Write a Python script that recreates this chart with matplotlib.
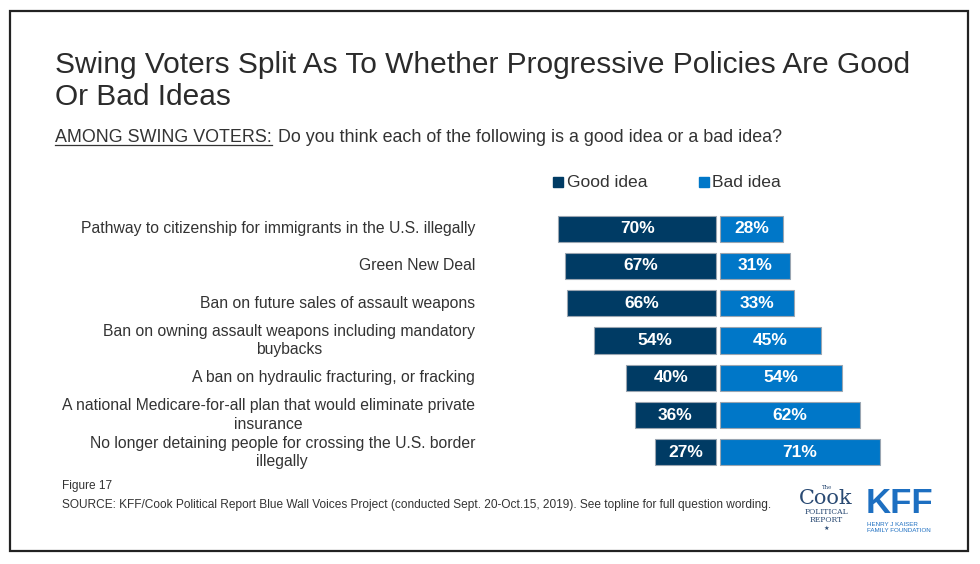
import matplotlib.pyplot as plt
from matplotlib.patches import Rectangle

plt.rcParams['font.family'] = ['Liberation Sans', 'DejaVu Sans']

# Data
policies = [
    "Pathway to citizenship for immigrants in the U.S. illegally",
    "Green New Deal",
    "Ban on future sales of assault weapons",
    "Ban on owning assault weapons including mandatory\nbuybacks",
    "A ban on hydraulic fracturing, or fracking",
    "A national Medicare-for-all plan that would eliminate private\ninsurance",
    "No longer detaining people for crossing the U.S. border\nillegally",
]
good = [70, 67, 66, 54, 40, 36, 27]
bad = [28, 31, 33, 45, 54, 62, 71]

good_color = "#003b64"
bad_color = "#0077c8"
text_color = "#333333"

W, H = 980, 564
fig = plt.figure(figsize=(W / 100, H / 100), dpi=100)

def px(x, y):
    return x / W, 1 - y / H

# frame
fig.patches.append(Rectangle((10 / W, 1 - 551 / H), 958 / W, 540 / H,
                             transform=fig.transFigure, fill=False,
                             edgecolor="#222222", linewidth=1.6))

# title + subtitle
fig.text(*px(55, 105), "Swing Voters Split As To Whether Progressive Policies Are Good\nOr Bad Ideas",
         fontsize=21.5, color="#2b2b2b", va="baseline", linespacing=1.2)
lead = fig.text(*px(55, 142), "AMONG SWING VOTERS:", fontsize=12.9, color=text_color, va="baseline")
renderer = fig.canvas.get_renderer()
bb = lead.get_window_extent(renderer)
fig.text(bb.x1 / W + 6 / W, 1 - 142 / H,
         "Do you think each of the following is a good idea or a bad idea?",
         fontsize=12.9, color=text_color, va="baseline")
fig.lines.append(plt.Line2D([55 / W, bb.x1 / W], [1 - 145 / H, 1 - 145 / H],
                            transform=fig.transFigure, color=text_color, linewidth=0.9))

# bars axes: x=0 at pixel 718, 2.25 px per %
ax = fig.add_axes([538 / W, 1 - 471 / H, 360 / W, 261 / H])
ax.set_xlim(-80, 80)
ax.set_ylim(len(policies) - 0.5, -0.5)
ax.axis("off")

ys = range(len(policies))
gap = 0.9
ax.barh(ys, [-g for g in good], left=-gap, height=0.7, color=good_color,
        edgecolor="#9aa5b1", linewidth=0.8)
ax.barh(ys, bad, left=gap, height=0.7, color=bad_color,
        edgecolor="#9aa5b1", linewidth=0.8)
for y, g, b, lab in zip(ys, good, bad, policies):
    ax.text(-gap - g / 2, y, f"{g}%", color="white", fontsize=12.5,
            fontweight="bold", ha="center", va="center")
    ax.text(gap + b / 2, y, f"{b}%", color="white", fontsize=12.5,
            fontweight="bold", ha="center", va="center")
    ax.text(-108, y, lab, color=text_color, fontsize=11.3, ha="right",
            va="center", multialignment="center", linespacing=1.3)

# legend
fig.patches.append(Rectangle((553 / W, 1 - 187 / H), 10 / W, 10 / H,
                             transform=fig.transFigure, color=good_color))
fig.text(*px(567, 187), "Good idea", fontsize=12.6, color=text_color, va="baseline")
fig.patches.append(Rectangle((699 / W, 1 - 187 / H), 10 / W, 10 / H,
                             transform=fig.transFigure, color=bad_color))
fig.text(*px(712, 187), "Bad idea", fontsize=12.6, color=text_color, va="baseline")

# footer
fig.text(*px(62, 489), "Figure 17", fontsize=8.6, color=text_color, va="baseline")
fig.text(*px(62, 508), "SOURCE: KFF/Cook Political Report Blue Wall Voices Project (conducted Sept. 20-Oct.15, 2019). See topline for full question wording.",
         fontsize=8.6, color=text_color, va="baseline")

# logos as text
navy = "#2a4a73"
fig.text(*px(826, 489), "The", fontsize=4, color=navy, ha="center", family="DejaVu Serif")
fig.text(*px(826, 504), "Cook", fontsize=15, color=navy, ha="center", family="DejaVu Serif")
fig.text(*px(826, 514), "POLITICAL", fontsize=5.5, color=navy, ha="center", family="DejaVu Serif")
fig.text(*px(826, 522), "REPORT", fontsize=5.5, color=navy, ha="center", family="DejaVu Serif")
fig.text(*px(826, 530), "\u2605", fontsize=4.5, color=navy, ha="center", family="DejaVu Sans")
fig.text(*px(866, 513), "KFF", fontsize=25, fontweight="bold", color="#1d6fc1", va="baseline")
fig.text(*px(867, 526), "HENRY J KAISER", fontsize=4.5, color="#1d6fc1", va="baseline")
fig.text(*px(867, 532), "FAMILY FOUNDATION", fontsize=4.5, color="#1d6fc1", va="baseline")

fig.savefig("out.png", dpi=100, facecolor="white")
